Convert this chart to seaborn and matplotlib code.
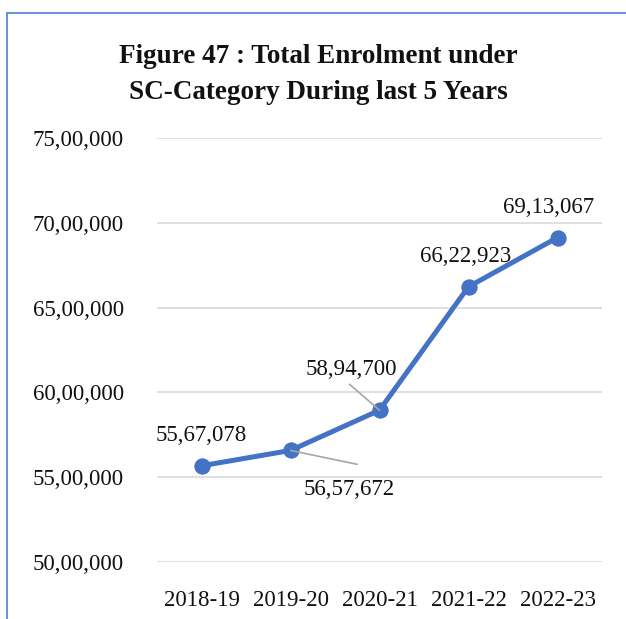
import matplotlib
matplotlib.use("Agg")
import matplotlib.pyplot as plt
import seaborn as sns
import pandas as pd
from matplotlib.patches import Rectangle
from matplotlib.ticker import FuncFormatter

# data
years = ["2018-19", "2019-20", "2020-21", "2021-22", "2022-23"]
enrolment = [5567078, 5657672, 5894700, 6622923, 6913067]
y_ticks = [5000000, 5500000, 6000000, 6500000, 7000000, 7500000]

title = "Figure 47 : Total Enrolment under\nSC-Category During last 5 Years"


def indian_format(n):
    s = str(int(round(n)))
    if len(s) <= 3:
        return s
    head, tail = s[:-3], s[-3:]
    parts = []
    while len(head) > 2:
        parts.insert(0, head[-2:])
        head = head[:-2]
    if head:
        parts.insert(0, head)
    return ",".join(parts) + "," + tail


def main():
    sns.set_theme(style="white")
    plt.rcParams["font.family"] = ["Liberation Serif", "DejaVu Serif"]

    df = pd.DataFrame({"Year": years, "Enrolment": enrolment})

    fig = plt.figure(figsize=(6.26, 6.19), dpi=100)
    ax = fig.add_axes([0.2508, 0.0921, 0.7109, 0.6850])

    line_color = "#4472C4"
    sns.lineplot(data=df, x="Year", y="Enrolment", ax=ax, color=line_color,
                 linewidth=3.6, marker="o", markersize=11,
                 markeredgecolor=line_color, sort=False)

    ax.set_xlim(-0.5, len(years) - 0.5)
    ax.set_ylim(y_ticks[0], y_ticks[-1])
    ax.set_yticks(y_ticks)
    ax.yaxis.set_major_formatter(FuncFormatter(lambda v, p: indian_format(v)))
    ax.grid(axis="y", color="#d9d9d9", linewidth=1.2)
    ax.grid(axis="x", visible=False)
    for sp in ax.spines.values():
        sp.set_visible(False)
    ax.tick_params(axis="y", length=0, pad=24, labelsize=16.5, labelcolor="#111111")
    ax.tick_params(axis="x", length=0, pad=20, labelsize=16.5, labelcolor="#111111")
    ax.set_xlabel("")
    ax.set_ylabel("")

    # data labels (offsets in points)
    label_offsets = [(0, 22), (42, -28), (-20, 29.5), (-2, 22), (-6.5, 21.6)]
    for i, (val, off) in enumerate(zip(enrolment, label_offsets)):
        ax.annotate(indian_format(val), xy=(i, val), xytext=off,
                    textcoords="offset points", ha="center", va="center",
                    fontsize=16.5, color="#111111")

    # leader lines for the two displaced labels
    leaders = {1: (48, -10), 2: (-21.6, 18.7)}
    for i, off in leaders.items():
        ax.annotate("", xy=(i, enrolment[i]), xytext=off,
                    textcoords="offset points",
                    arrowprops=dict(arrowstyle="-", color="#a6a6a6", lw=1.2,
                                    shrinkA=0, shrinkB=0))

    fig.text(0.508, 0.8797, title, ha="center", va="center", fontsize=19.5,
             fontweight="bold", linespacing=1.56, color="#111111")

    # chart frame (cropped on right and bottom)
    frame = Rectangle((7 / 626, -0.2), 1.2, 1.2 - 13 / 619,
                      transform=fig.transFigure, fill=False,
                      edgecolor="#5b87d6", linewidth=1.3, zorder=10)
    fig.patches.append(frame)

    fig.savefig("out.png", dpi=100)


if __name__ == "__main__":
    main()
